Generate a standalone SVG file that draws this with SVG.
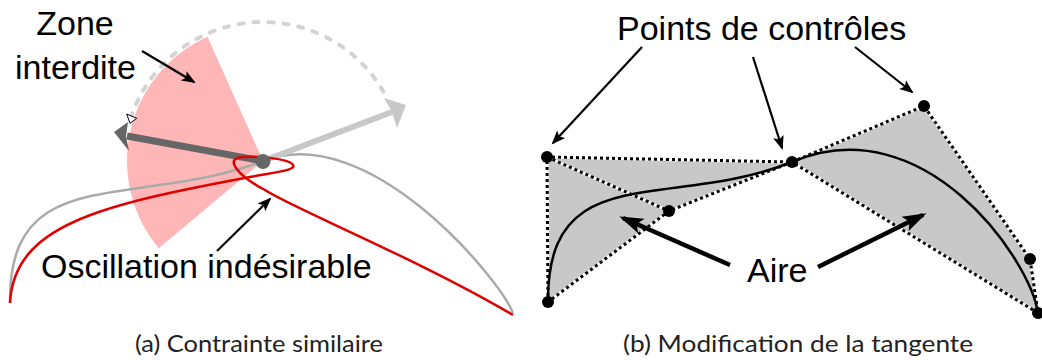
<svg xmlns="http://www.w3.org/2000/svg" width="1042" height="360" viewBox="0 0 1042 360">
<style>
.lbl{font-family:"Liberation Sans",Arial,sans-serif;font-size:34px;fill:#000}
.cap{font-family:Lato,"DejaVu Sans","Liberation Sans",sans-serif;font-size:23px;fill:#222}
.thin{stroke:#000;stroke-width:2.2;fill:none;marker-end:url(#ah)}
.thick{stroke:#000;stroke-width:4.5;fill:none;marker-end:url(#ahb)}
.dw{stroke:#fff;stroke-width:3;fill:none}
.db{stroke:#000;stroke-width:3;fill:none;stroke-dasharray:3 3}
.cp{fill:#000}
</style>
<defs>
<marker id="ah" markerUnits="userSpaceOnUse" markerWidth="18" markerHeight="14" refX="12" refY="5.5" orient="auto" overflow="visible">
<path d="M0,0 L14,5.5 L0,11 L3,5.5 z" fill="#000"/>
</marker>
<marker id="ahb" markerUnits="userSpaceOnUse" markerWidth="28" markerHeight="18" refX="20" refY="8" orient="auto" overflow="visible">
<path d="M0,0 L24,8 L0,16 L5,8 z" fill="#000"/>
</marker>
</defs>

<g id="panel-a">
<g id="zone-interdite">
<path d="M263,161 L207.5,36.8 A136,136 0 0 0 158.7,248.2 Z" fill="#ffb6b6"/>
</g>
<g id="rotation-arc">
<path d="M130.8,118 A139,139 0 0 1 384.2,93" fill="none" stroke="#d3d3d3" stroke-width="4" stroke-linecap="round" stroke-dasharray="5 10"/>
<polygon points="126.7,114 136.7,118.3 130,123.3" fill="#fff" stroke="#000" stroke-width="1"/>
</g>
<g id="curve-original">
<path d="M10,303 C8,160 135,210 263,161 C370,120 500,280 513,313" fill="none" stroke="#aaa" stroke-width="2.5"/>
</g>
<g id="tangent-original">
<line x1="263" y1="161" x2="392" y2="112" stroke="#c8c8c8" stroke-width="6"/>
<polygon points="406,105 384,98 392,112 397,128" fill="#c8c8c8"/>
</g>
<g id="tangent-modified">
<line x1="263" y1="161" x2="127" y2="136" stroke="#666" stroke-width="7"/>
<polygon points="114,132 128,122 126,136 129,151" fill="#666"/>
</g>
<g id="curve-oscillation">
<path d="M10,303 C14,225 100,205 250,177 C280,171.5 296,170 293,165 C290,159 260,156 243,157 C222,158 240,177 265,190 C290,207 420,260 513,315" fill="none" stroke="#e00000" stroke-width="2.5"/>
</g>
<g id="joint-point">
<circle cx="263" cy="161.5" r="7.5" fill="#666"/>
</g>
<g id="label-zone">
<text class="lbl" x="75" y="35" text-anchor="middle">Zone</text>
<text class="lbl" x="75.5" y="79" text-anchor="middle">interdite</text>
</g>
<g id="label-oscillation">
<text class="lbl" x="41" y="278">Oscillation indésirable</text>
</g>
<text class="cap" x="135" y="352" textLength="248" lengthAdjust="spacingAndGlyphs">(a) Contrainte similaire</text>
</g>

<g id="panel-b">
<g id="area-left">
<polygon points="547,157 792,162 669,211 548,302" fill="#c8c8c8"/>
</g>
<g id="area-right">
<polygon points="792,162 924,106 1030,259 1038,313" fill="#c8c8c8"/>
</g>
<g id="control-polygon">
<path class="dw" d="M548,302 L547,157 L792,162 L669,211 L548,302 M547,157 L669,211 M792,162 L924,106 L1030,259 L1038,313 L792,162"/>
<path class="db" d="M548,302 L547,157 L792,162 L669,211 L548,302 M547,157 L669,211 M792,162 L924,106 L1030,259 L1038,313 L792,162"/>
</g>
<g id="curve-b">
<path d="M548,302 C547,157 669,211 792,162 C924,106 1030,259 1038,313" fill="none" stroke="#000" stroke-width="2.5"/>
</g>
<g id="cp-a"><circle class="cp" cx="547" cy="157" r="6"/></g>
<g id="cp-b"><circle class="cp" cx="548" cy="302" r="6"/></g>
<g id="cp-c"><circle class="cp" cx="669" cy="211" r="6"/></g>
<g id="cp-d"><circle class="cp" cx="792" cy="162" r="6"/></g>
<g id="cp-e"><circle class="cp" cx="924" cy="106" r="6"/></g>
<g id="cp-f"><circle class="cp" cx="1030" cy="259" r="6"/></g>
<g id="cp-g"><circle class="cp" cx="1038" cy="313" r="6"/></g>
<g id="label-points">
<text class="lbl" x="617" y="40">Points de contrôles</text>
</g>
<g id="label-aire">
<text class="lbl" x="747" y="282">Aire</text>
</g>
<text class="cap" x="623" y="352" textLength="350" lengthAdjust="spacingAndGlyphs">(b) Modification de la tangente</text>
</g>

<g id="connectors">
<line class="thin" x1="142" y1="51" x2="194" y2="82"/>
<line class="thin" x1="217" y1="251" x2="270" y2="199"/>
<line class="thin" x1="642" y1="47" x2="553" y2="143"/>
<line class="thin" x1="753" y1="57" x2="782" y2="148"/>
<line class="thin" x1="855" y1="47" x2="912" y2="92"/>
<line class="thick" x1="730" y1="265" x2="623" y2="218"/>
<line class="thick" x1="818" y1="267" x2="923" y2="215"/>
</g>
</svg>
